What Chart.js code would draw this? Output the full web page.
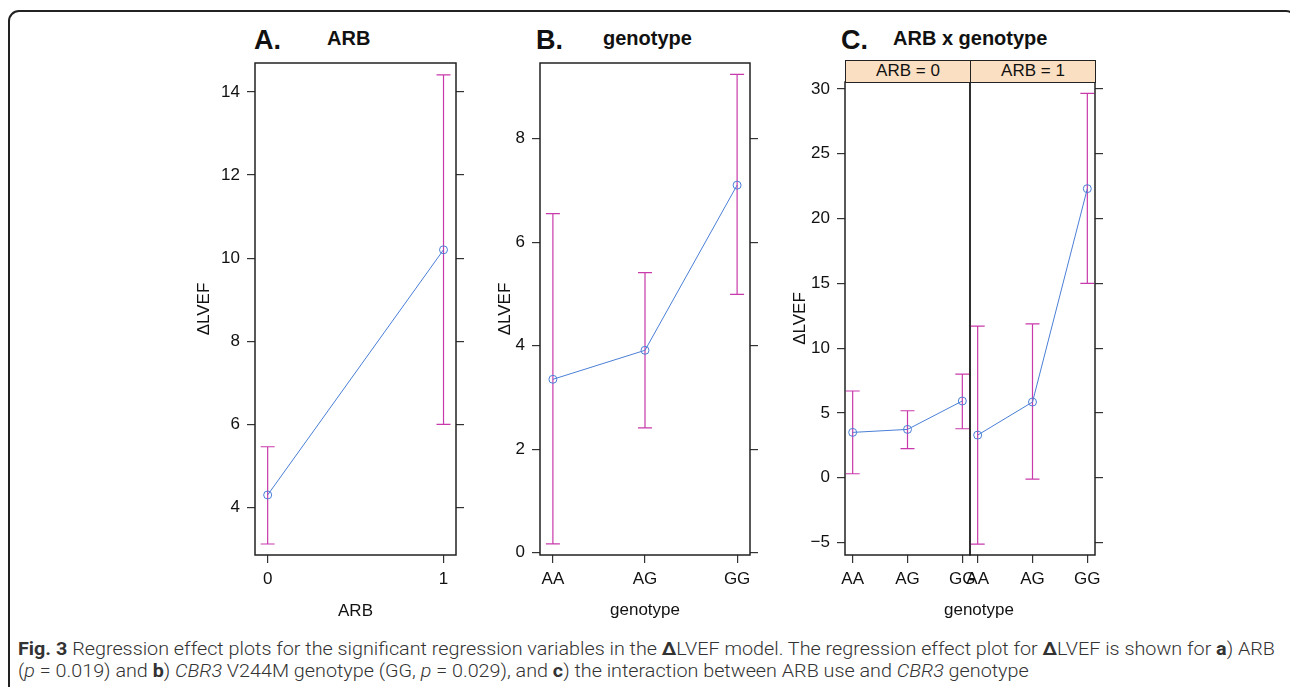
<!DOCTYPE html>
<html>
<head>
<meta charset="utf-8">
<script src="https://cdn.jsdelivr.net/npm/chart.js@4.4.0/dist/chart.umd.min.js"></script>
<style>
  body { margin: 0; background: #fff; width: 1290px; height: 687px; overflow: hidden; position: relative;
         font-family: "Liberation Sans", Arial, sans-serif; }
  .frame { position: absolute; left: 8px; top: 10px; width: 1289px; height: 720px; box-sizing: border-box;
           border: 2px solid #222; border-top-left-radius: 11px; border-top-right-radius: 11px; }
  canvas { position: absolute; }
  .t { position: absolute; white-space: nowrap; color: #111; line-height: 1; }
  .letter { font-size: 27px; font-weight: bold; }
  .ttl { font-size: 20px; font-weight: bold; }
  .strip { position: absolute; top: 60px; height: 23px; box-sizing: border-box; background: #FADFC2;
           border: 1.5px solid #222; font-size: 17px; text-align: center; line-height: 20px; color: #111; }
  .cap { position: absolute; left: 18px; white-space: nowrap; font-size: 19px; color: #333; transform-origin: 0 0;
         font-family: Roboto, "Open Sans", sans-serif; font-weight: 300; }
  .cap b { font-weight: 700; }
</style>
</head>
<body>
<div class="frame"></div>

<div class="t letter" style="left:254px;top:27px">A.</div>
<div class="t ttl" style="left:327px;top:28px">ARB</div>
<div class="t letter" style="left:536px;top:27px">B.</div>
<div class="t ttl" style="left:603px;top:28px">genotype</div>
<div class="t letter" style="left:841px;top:27px">C.</div>
<div class="t ttl" style="left:893px;top:28px">ARB x genotype</div>

<canvas id="chartA" width="300" height="590" style="left:180px;top:43px"></canvas>
<canvas id="chartB" width="305" height="590" style="left:470px;top:43px"></canvas>
<canvas id="chartC0" width="206" height="571" style="left:780px;top:62px"></canvas>
<canvas id="chartC1" width="166" height="571" style="left:954px;top:62px"></canvas>

<div class="strip" style="left:845px;width:126px">ARB = 0</div>
<div class="strip" style="left:970px;width:126px">ARB = 1</div>
<div class="t" style="left:944px;top:601px;font-size:17px">genotype</div>

<div class="cap" id="cap1" style="top:637px"><b>Fig. 3</b> Regression effect plots for the significant regression variables in the <b>Δ</b>LVEF model. The regression effect plot for <b>Δ</b>LVEF is shown for <b>a</b>) ARB</div>
<div class="cap" id="cap2" style="top:659px">(<i>p</i> = 0.019) and <b>b</b>) <i>CBR3</i> V244M genotype (GG, <i>p</i> = 0.029), and <b>c</b>) the interaction between ARB use and <i>CBR3</i> genotype</div>

<script>
// panel A: ARB
const arbLevels = [0, 1];
const arbFit = [4.3, 10.2];
const arbLower = [3.12, 6.0];
const arbUpper = [5.46, 14.41];

// panel B: genotype
const genotypes = ['AA', 'AG', 'GG'];
const genoIdx = [0, 1, 2];
const genoFit = [3.35, 3.91, 7.1];
const genoLower = [0.17, 2.41, 4.99];
const genoUpper = [6.55, 5.41, 9.24];

// panel C: ARB x genotype
const arb0Fit = [3.5, 3.73, 5.92];
const arb0Lower = [0.31, 2.24, 3.78];
const arb0Upper = [6.69, 5.17, 8.0];
const arb1Fit = [3.29, 5.84, 22.3];
const arb1Lower = [-5.12, -0.1, 15.0];
const arb1Upper = [11.7, 11.87, 29.66];

const ticksA = [4, 6, 8, 10, 12, 14];
const ticksB = [0, 2, 4, 6, 8];
const ticksC = [-5, 0, 5, 10, 15, 20, 25, 30];

const BLUE = '#4a7fd6';
const PINK = '#c83aab';
const INK = '#222';

Chart.defaults.font.family = '"Liberation Sans", Arial, sans-serif';
Chart.defaults.font.size = 17;
Chart.defaults.color = '#111';

function fmt(v) {
  return v < 0 ? '\u2212' + Math.abs(v) : String(v);
}

// error bars + plot box, drawn with the chart's own scales
function effectPlugin(xs, lower, upper) {
  return {
    id: 'effect',
    beforeDatasetsDraw(chart) {
      const ctx = chart.ctx, sx = chart.scales.x, sy = chart.scales.y;
      ctx.save();
      ctx.strokeStyle = PINK;
      ctx.lineWidth = 1.2;
      xs.forEach((x, i) => {
        const px = sx.getPixelForValue(x);
        const lo = sy.getPixelForValue(lower[i]);
        const hi = sy.getPixelForValue(upper[i]);
        ctx.beginPath();
        ctx.moveTo(px, lo); ctx.lineTo(px, hi);
        ctx.moveTo(px - 7, lo); ctx.lineTo(px + 7, lo);
        ctx.moveTo(px - 7, hi); ctx.lineTo(px + 7, hi);
        ctx.stroke();
      });
      ctx.restore();
    },
    afterDatasetsDraw(chart) {
      const a = chart.chartArea, ctx = chart.ctx;
      ctx.save();
      ctx.strokeStyle = INK;
      ctx.lineWidth = 1.5;
      ctx.strokeRect(a.left, a.top, a.right - a.left, a.bottom - a.top);
      ctx.restore();
    }
  };
}

function tickGrid() {
  return { drawOnChartArea: false, drawTicks: true, tickLength: 8, color: '#333', lineWidth: 1.2 };
}

function xAxis(min, max, vals, labelFn, title, titlePad) {
  return {
    type: 'linear', min: min, max: max,
    afterBuildTicks: s => { s.ticks = vals.map(v => ({ value: v })); },
    afterFit: s => { s.height = 78; },
    ticks: { callback: labelFn, padding: 6, maxRotation: 0, autoSkip: false },
    grid: tickGrid(),
    border: { display: false },
    title: { display: !!title, text: title, padding: { top: 0, bottom: titlePad } }
  };
}

function yAxis(min, max, vals, pos, width, labels, title, titlePad) {
  return {
    type: 'linear', position: pos, min: min, max: max,
    afterBuildTicks: s => { s.ticks = vals.map(v => ({ value: v })); },
    afterFit: s => { s.width = width; },
    ticks: { display: labels, callback: fmt, padding: 7 },
    grid: tickGrid(),
    border: { display: false },
    title: { display: !!title, text: title, padding: { top: titlePad, bottom: 0 } }
  };
}

function line(xs, fit) {
  return {
    data: xs.map((x, i) => ({ x: x, y: fit[i] })),
    borderColor: BLUE, borderWidth: 1, tension: 0,
    pointRadius: 4, pointBorderColor: BLUE, pointBackgroundColor: 'rgba(0,0,0,0)', pointBorderWidth: 1
  };
}

function common(padding, scales) {
  return {
    responsive: false, animation: false, events: [],
    layout: { padding: padding },
    plugins: { legend: { display: false }, tooltip: { enabled: false } },
    scales: scales
  };
}

new Chart(document.getElementById('chartA'), {
  type: 'line',
  data: { datasets: [line(arbLevels, arbFit)] },
  options: common({ top: 20, left: 0, right: 0, bottom: 0 }, {
    x: xAxis(-0.072, 1.071, arbLevels, v => String(v), 'ARB', 11.8),
    y: yAxis(2.855, 14.696, ticksA, 'left', 75, true, 'ΔLVEF', 14.4),
    yr: yAxis(2.855, 14.696, ticksA, 'right', 24, false, '', 0)
  }),
  plugins: [effectPlugin(arbLevels, arbLower, arbUpper)]
});

new Chart(document.getElementById('chartB'), {
  type: 'line',
  data: { datasets: [line(genoIdx, genoFit)] },
  options: common({ top: 20, left: 0, right: 0, bottom: 0 }, {
    x: xAxis(-0.14, 2.14, genoIdx, v => genotypes[v], 'genotype', 12.4),
    y: yAxis(-0.044, 9.46, ticksB, 'left', 70, true, 'ΔLVEF', 25.4),
    yr: yAxis(-0.044, 9.46, ticksB, 'right', 25, false, '', 0)
  }),
  plugins: [effectPlugin(genoIdx, genoLower, genoUpper)]
});

new Chart(document.getElementById('chartC0'), {
  type: 'line',
  data: { datasets: [line(genoIdx, arb0Fit)] },
  options: common({ top: 20, left: 0, right: 16, bottom: 0 }, {
    x: xAxis(-0.14, 2.14, genoIdx, v => genotypes[v], '', 0),
    y: yAxis(-5.96, 30.53, ticksC, 'left', 65, true, 'ΔLVEF', 10.4)
  }),
  plugins: [effectPlugin(genoIdx, arb0Lower, arb0Upper)]
});

new Chart(document.getElementById('chartC1'), {
  type: 'line',
  data: { datasets: [line(genoIdx, arb1Fit)] },
  options: common({ top: 20, left: 16, right: 0, bottom: 0 }, {
    x: xAxis(-0.14, 2.14, genoIdx, v => genotypes[v], '', 0),
    y: yAxis(-5.96, 30.53, ticksC, 'right', 25, false, '', 0)
  }),
  plugins: [effectPlugin(genoIdx, arb1Lower, arb1Upper)]
});

// caption: condense both lines by the same factor so line one fills the frame
const c1 = document.getElementById('cap1'), c2 = document.getElementById('cap2');
const k = 1257 / c1.getBoundingClientRect().width;
c1.style.transform = 'scaleX(' + k + ')';
c2.style.transform = 'scaleX(' + k + ')';
</script>
</body>
</html>
